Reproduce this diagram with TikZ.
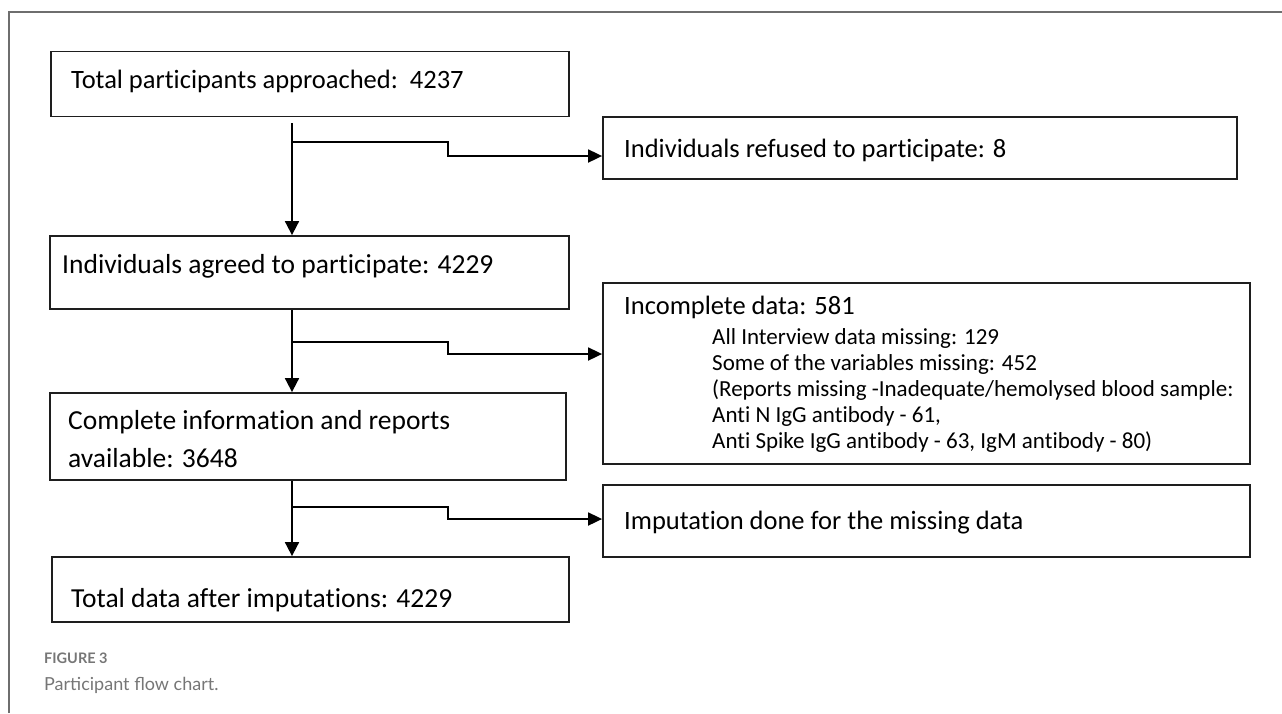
\documentclass[tikz,border=0pt]{standalone}
\usepackage{fontspec}
\setmainfont{Carlito}[Ligatures=NoCommon]
\newfontfamily\capfont{Lato}
\usetikzlibrary{arrows.meta}
\definecolor{framegray}{HTML}{6E6E6E}
\definecolor{capgray}{HTML}{767676}
\definecolor{inkdark}{HTML}{1E1E1E}
\tikzset{
  flowbox/.style={draw=inkdark, line width=1.8pt, rectangle, inner sep=0pt},
  maintext/.style={anchor=base west, inner sep=0pt, text=black, font=\fontsize{26.5}{32}\selectfont},
  bigtext/.style={maintext, font=\fontsize{27.5}{33}\selectfont},
  subtext/.style={anchor=base west, inner sep=0pt, text=black, font=\fontsize{23}{28}\selectfont},
  conn/.style={draw=black, line width=1.8pt},
  arr/.style={conn, -{Triangle[length=14pt,width=14pt]}},
  harr/.style={conn, -{Triangle[length=14pt,width=13pt]}},
}
\begin{document}
\begin{tikzpicture}[x=1pt,y=-1pt]
\useasboundingbox (0,0) rectangle (1282,713);
% outer frame (only left and top edges visible)
\draw[framegray, line width=1.3pt] (9,713) -- (9,12) -- (1282,12);

% boxes
\node[flowbox, minimum width=518pt, minimum height=65pt] (b1) at (310,84) {};
\node[flowbox, minimum width=634pt, minimum height=62pt] (ref) at (920,148) {};
\node[flowbox, minimum width=519pt, minimum height=73pt] (agr) at (309.5,272.5) {};
\node[flowbox, minimum width=647pt, minimum height=181pt] (inc) at (926.5,373.5) {};
\node[flowbox, minimum width=516pt, minimum height=87pt] (cmp) at (308,436.5) {};
\node[flowbox, minimum width=647pt, minimum height=72pt] (imp) at (926.5,521) {};
\node[flowbox, minimum width=517pt, minimum height=65pt] (tot) at (310.5,589.5) {};

% texts
\node[maintext] (tb1) at (71,88) {Total participants approached:\ \ 4237};
\node[maintext] (tref) at (624,157) {Individuals refused to participate: 8};
\node[bigtext] (tagr) at (62,273) {Individuals agreed to participate: 4229};
\node[bigtext] (tcmp1) at (68,429) {Complete information and reports};
\node[bigtext] (tcmp2) at (68,467) {available: 3648};
\node[maintext] (tinc) at (624,314) {Incomplete data: 581};
\node[subtext] (tinc1) at (712,344) {All Interview data missing: 129};
\node[subtext] (tinc2) at (712,370) {Some of the variables missing: 452};
\node[subtext] (tinc3) at (712,396) {(Reports missing -Inadequate/hemolysed blood sample:};
\node[subtext] (tinc4) at (712,422) {Anti N IgG antibody - 61,};
\node[subtext] (tinc5) at (712,448) {Anti Spike IgG antibody - 63, IgM antibody - 80)};
\node[maintext] (timp) at (624,529) {Imputation done for the missing data};
\node[bigtext] (ttot) at (71,607) {Total data after imputations: 4229};

% connectors
\coordinate (s1) at (292,123);
\coordinate (j1) at (292,142);
\draw[arr] (s1) -- (s1 |- agr.north);
\draw[harr] (j1) -- (448,142) -- (448,156) -- (ref.west |- 0,156);

\coordinate (s2) at (292,310);
\coordinate (j2) at (292,342);
\draw[arr] (s2) -- (s2 |- cmp.north);
\draw[harr] (j2) -- (448,342) -- (448,354) -- (inc.west |- 0,354);

\coordinate (s3) at (292,481);
\coordinate (j3) at (292,507);
\draw[arr] (s3) -- (s3 |- tot.north);
\draw[harr] (j3) -- (448,507) -- (448,519) -- (imp.west |- 0,519);

% caption
\node[anchor=base west, inner sep=0pt, text=capgray, font=\capfont\bfseries\fontsize{14.5}{17}\selectfont] (fig) at (44,663) {FIGURE 3};
\node[anchor=base west, inner sep=0pt, text=capgray, font=\capfont\fontsize{18}{22}\selectfont] (cap) at (44,690) {Participant flow chart.};
\end{tikzpicture}
\end{document}
